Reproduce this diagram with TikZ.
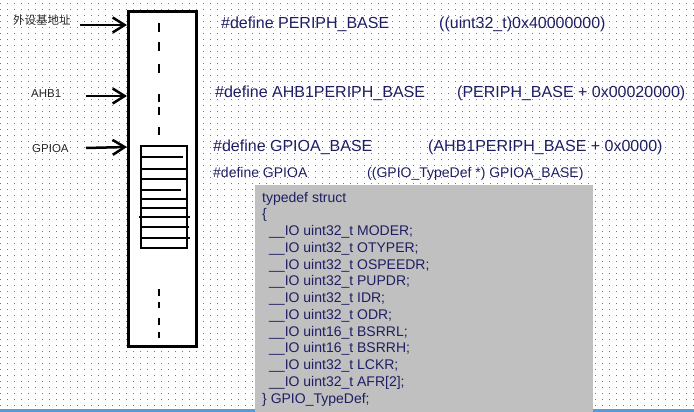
\documentclass[tikz,border=0pt]{standalone}
\usepackage{fontspec}
\setmainfont{Liberation Sans}
\newfontfamily\cjk{Noto Sans CJK SC}
\usetikzlibrary{arrows.meta}
\usetikzlibrary{patterns}
\definecolor{codeblue}{HTML}{1E1E64}
\definecolor{griddot}{HTML}{1FA08A}
\definecolor{codegray}{HTML}{C0C0C0}
\definecolor{barblue}{HTML}{5B9BD5}
\pgfdeclarepatternformonly{griddots}{\pgfqpoint{0pt}{0pt}}{\pgfqpoint{1pt}{1pt}}{\pgfqpoint{7pt}{6pt}}{%
  \pgfpathrectangle{\pgfqpoint{0pt}{0pt}}{\pgfqpoint{1.1pt}{1.1pt}}\pgfusepath{fill}}
\def\linegap{16.75}
\def\structtop{202}

\begin{document}
\begin{tikzpicture}[x=1pt, y=-1pt,
    deftext/.style={anchor=base west, inner sep=0pt, text=codeblue, font=\fontsize{16}{19}\selectfont},
    smalldef/.style={deftext, font=\fontsize{14}{17}\selectfont},
    sidelabel/.style={anchor=base west, inner sep=0pt, text=black!85, font=\fontsize{11.5}{13}\selectfont},
    pointer/.style={line width=2.5pt, -{Straight Barb[length=12pt, width=15pt]}},
    regline/.style={line width=1.5pt}]
  \useasboundingbox (0,0) rectangle (694,412);
  % canvas
  \fill[pattern=griddots, pattern color=griddot] (0,0) rectangle (694,409);
  \fill[barblue] (0,409) rectangle (694,412);

  % memory block
  \node[draw, fill=white, line width=3pt, minimum width=68pt, minimum height=335pt, inner sep=0pt] (mem) at (162.5,179) {};
  \foreach \a/\b in {23/32, 42/51, 64/73, 94/102, 107/115, 127/135, 289/296, 302/308, 318/325, 332/338}
    \draw[line width=2.5pt] (159,\a) -- (159,\b);

  % GPIOA registers
  \node[draw, line width=2pt, minimum width=46pt, minimum height=102pt, inner sep=0pt] (gpio) at (164,197) {};
  \draw[line width=2.5pt] (141,157) -- (183,157);
  \foreach \y/\l/\r in {169/141/188, 179/141/187, 190/141/181, 199/141/187, 208/141/187, 217/139/190, 227/141/189, 238/141/190}
    \draw[regline] (\l,\y) -- (\r,\y);

  % address labels
  \node[sidelabel] (lbase) at (13,25) {\cjk 外设基地址};
  \node[sidelabel] (lahb) at (31,98) {AHB1};
  \node[sidelabel] (lgpio) at (32,152) {GPIOA};
  \coordinate (s1) at (80,25);  \coordinate (e1) at (127,25);
  \coordinate (s2) at (86,96);  \coordinate (e2) at (127,96);
  \coordinate (s3) at (86,148); \coordinate (e3) at (127,147);
  \draw[pointer] (s1) -- (e1);
  \draw[pointer] (s2) -- (e2);
  \draw[pointer] (s3) -- (e3);

  % defines
  \node[deftext] (d1) at (221,29) {\#define PERIPH\_BASE};
  \node[deftext] (v1) at (439,29) {((uint32\_t)0x40000000)};
  \node[deftext] (d2) at (215,98) {\#define AHB1PERIPH\_BASE};
  \node[deftext] (v2) at (457,98) {(PERIPH\_BASE + 0x00020000)};
  \node[deftext] (d3) at (213,151) {\#define GPIOA\_BASE};
  \node[deftext] (v3) at (428,151) {(AHB1PERIPH\_BASE + 0x0000)};
  \node[smalldef] (d4) at (213,177) {\#define GPIOA};
  \node[smalldef] (v4) at (367,177) {((GPIO\_TypeDef *) GPIOA\_BASE)};

  % struct
  \fill[codegray] (255,185) rectangle (593,412);
  \node[smalldef] (st0) at (262,\structtop) {typedef struct};
  \node[smalldef] (st1) at (262,\structtop+\linegap) {\{};
  \foreach \w/\r [count=\n from 2] in {32/MODER, 32/OTYPER, 32/OSPEEDR, 32/PUPDR, 32/IDR, 32/ODR, 16/BSRRL, 16/BSRRH, 32/LCKR, 32/{AFR[2]}}
    \node[smalldef] (st\n) at (269,\structtop+\n*\linegap) {\_\_IO uint\w\_t \r;};
  \node[smalldef] (st12) at (262,\structtop+12*\linegap) {\} GPIO\_TypeDef;};
\end{tikzpicture}
\end{document}
